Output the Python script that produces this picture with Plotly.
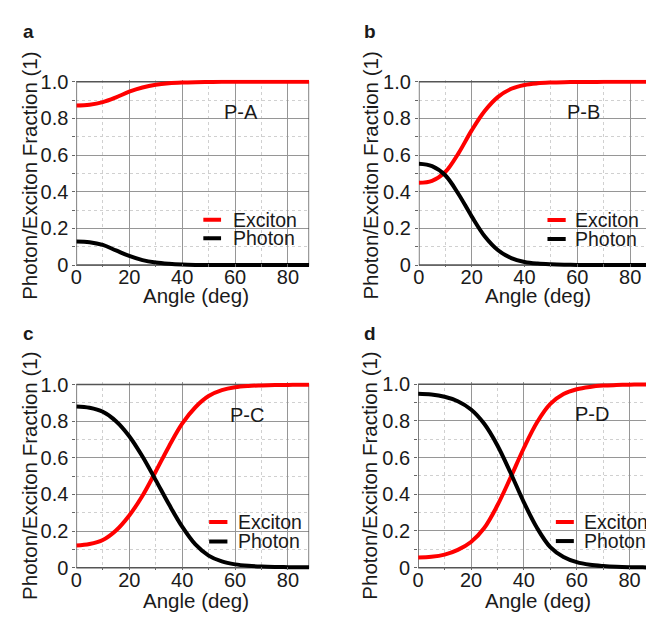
import plotly.graph_objects as go

angles = [0, 5, 10, 15, 20, 25, 30, 35, 40, 45, 50, 55, 60, 65, 70, 75, 80, 85, 88]

exciton_a = [0.871, 0.875, 0.889, 0.915, 0.946, 0.969, 0.984, 0.992, 0.996, 0.998, 0.999, 1.0, 1.0, 1.0, 1.0, 1.0, 1.0, 1.0, 1.0]
photon_a = [0.129, 0.125, 0.110, 0.080, 0.050, 0.027, 0.014, 0.007, 0.003, 0.001, 0.0, 0.0, 0.0, 0.0, 0.0, 0.0, 0.0, 0.0, 0.0]

exciton_b = [0.449, 0.460, 0.508, 0.610, 0.735, 0.842, 0.918, 0.962, 0.983, 0.992, 0.996, 0.998, 0.999, 0.999, 1.0, 1.0, 1.0, 1.0, 1.0]
photon_b = [0.553, 0.540, 0.490, 0.388, 0.266, 0.156, 0.081, 0.038, 0.017, 0.008, 0.004, 0.002, 0.001, 0.001, 0.0, 0.0, 0.0, 0.0, 0.0]

exciton_c = [0.121, 0.129, 0.151, 0.203, 0.285, 0.393, 0.525, 0.662, 0.786, 0.876, 0.937, 0.969, 0.985, 0.992, 0.995, 0.997, 0.998, 0.999, 0.999]
photon_c = [0.880, 0.873, 0.851, 0.800, 0.718, 0.607, 0.478, 0.346, 0.224, 0.127, 0.066, 0.034, 0.018, 0.010, 0.006, 0.004, 0.003, 0.002, 0.002]

exciton_d = [0.055, 0.059, 0.071, 0.097, 0.140, 0.216, 0.340, 0.492, 0.652, 0.792, 0.892, 0.946, 0.972, 0.985, 0.992, 0.995, 0.997, 0.998, 0.999]
photon_d = [0.947, 0.943, 0.931, 0.907, 0.862, 0.784, 0.666, 0.516, 0.356, 0.216, 0.112, 0.058, 0.030, 0.016, 0.009, 0.005, 0.003, 0.002, 0.001]

panel_letters = ["a", "b", "c", "d"]
panel_names = ["P-A", "P-B", "P-C", "P-D"]
series_names = ["Exciton", "Photon"]
x_ticks = [0, 20, 40, 60, 80]
y_ticks = [0, 0.2, 0.4, 0.6, 0.8, 1.0]
y_ticktext = ["0", "0.2", "0.4", "0.6", "0.8", "1.0"]
x_title = "Angle (deg)"
y_title = "Photon/Exciton Fraction (1)"

W, H = 646, 623
FONT = "Liberation Sans, Arial, sans-serif"
TXT = "#1a1a1a"
RED = "#ff0000"
BLACK = "#000000"
FRAME = "#555555"
EXT = 0.012  # small y-range padding so thick lines at 0 and 1 are not clipped

def px_x(p):
    return p / W

def px_y(p):
    return 1 - p / H

# panel geometry in pixels: (left, right, top(y=1), bottom(y=0), xmax)
panels = [
    (71, 306, 75, 263.7, 88.0),
    (416.7, 646, 75, 263.7, 86.0),
    (71, 306, 386.7, 575.3, 88.0),
    (416, 646, 386.3, 575.3, 86.2),
]
full_box = [True, False, True, False]

name_pos = [(62.1, 0.836), (62.5, 0.836), (64.4, 0.832), (65.6, 0.84)]
legend_pos = [  # line start, line end, text start, y exciton, y photon
    (48.0, 54.7, 58.5, 0.247, 0.147),
    (48.7, 55.6, 58.4, 0.246, 0.142),
    (50.2, 57.1, 60.3, 0.249, 0.143),
    (52.1, 58.9, 62.0, 0.249, 0.145),
]
letter_pos = [(23, 23), (367, 23), (23, 334), (367, 334)]
xtitle_pos = [(192, 295), (537, 295), (192, 609), (537, 609)]
ytitle_pos = [(23, 172), (367, 172), (23, 481), (367, 481)]

data = [(exciton_a, photon_a), (exciton_b, photon_b), (exciton_c, photon_c), (exciton_d, photon_d)]

fig = go.Figure()
layout = dict(
    width=W, height=H,
    margin=dict(l=0, r=0, t=0, b=0),
    paper_bgcolor="white", plot_bgcolor="white",
    showlegend=False,
    font=dict(family=FONT, size=20, color=TXT),
)
annotations = []
shapes = []

for i in range(4):
    sfx = "" if i == 0 else str(i + 1)
    xa, ya = "x" + sfx, "y" + sfx
    left, right, top, bottom, xmax = panels[i]
    span = bottom - top
    pad = EXT * span
    ex, ph = data[i]
    fig.add_trace(go.Scatter(x=angles, y=ex, mode="lines", name=series_names[0],
                             line=dict(color=RED, width=4, shape="spline", smoothing=1.0),
                             xaxis=xa, yaxis=ya))
    fig.add_trace(go.Scatter(x=angles, y=ph, mode="lines", name=series_names[1],
                             line=dict(color=BLACK, width=4, shape="spline", smoothing=1.0),
                             xaxis=xa, yaxis=ya))
    layout["xaxis" + sfx] = dict(
        domain=[px_x(left), min(1.0, px_x(right))], range=[0, xmax], anchor=ya,
        tickvals=x_ticks, ticks="inside", ticklen=3, tickcolor="#666",
        ticklabelstandoff=-4,
        showline=False, showgrid=True, gridcolor="#969696", gridwidth=1, zeroline=False,
        tickfont=dict(size=20, color=TXT, family=FONT),
        minor=dict(dtick=10, tick0=0, showgrid=True, gridcolor="#d0d0d0", griddash="dot",
                   ticks="inside", ticklen=3, tickcolor="#666"),
    )
    layout["yaxis" + sfx] = dict(
        domain=[px_y(bottom + pad), px_y(top - pad)], range=[-EXT, 1.0 + EXT], anchor=xa,
        tickvals=y_ticks, ticktext=y_ticktext, ticks="outside", ticklen=3, tickcolor="#666",
        showline=False, showgrid=True, gridcolor="#969696", gridwidth=1, zeroline=False,
        tickfont=dict(size=20, color=TXT, family=FONT),
        minor=dict(dtick=0.1, tick0=0, showgrid=True, gridcolor="#d0d0d0", griddash="dot",
                   ticks="outside", ticklen=3, tickcolor="#666"),
    )
    # frame of the panel (y from 0 to 1)
    x_right = xmax if full_box[i] else xmax + 10
    shapes.append(dict(type="rect", xref=xa, yref=ya, x0=0, x1=x_right, y0=0, y1=1,
                       line=dict(color=FRAME, width=1.5), layer="between"))
    # panel name
    annotations.append(dict(x=name_pos[i][0], y=name_pos[i][1], xref=xa, yref=ya,
                            text=panel_names[i], showarrow=False,
                            font=dict(size=20, color=TXT, family=FONT)))
    # legend
    lx0, lx1, tx, ye, yp = legend_pos[i]
    for yy, col, nm in [(ye, RED, series_names[0]), (yp, BLACK, series_names[1])]:
        shapes.append(dict(type="line", xref=xa, yref=ya, x0=lx0, x1=lx1, y0=yy, y1=yy,
                           line=dict(color=col, width=4)))
        annotations.append(dict(x=tx, y=yy, xref=xa, yref=ya, text=nm, showarrow=False,
                                xanchor="left", yanchor="middle",
                                font=dict(size=19.5, color=TXT, family=FONT)))
    # panel letter
    annotations.append(dict(x=px_x(letter_pos[i][0]), y=px_y(letter_pos[i][1]), xref="paper", yref="paper",
                            text="<b>%s</b>" % panel_letters[i], showarrow=False,
                            xanchor="center", yanchor="middle",
                            font=dict(size=19, color=TXT, family=FONT)))
    # axis titles
    annotations.append(dict(x=px_x(xtitle_pos[i][0]), y=px_y(xtitle_pos[i][1]), xref="paper", yref="paper",
                            text=x_title, showarrow=False, xanchor="center", yanchor="middle",
                            font=dict(size=20.5, color=TXT, family=FONT)))
    annotations.append(dict(x=px_x(ytitle_pos[i][0]), y=px_y(ytitle_pos[i][1]), xref="paper", yref="paper",
                            text=y_title, showarrow=False, textangle=-90,
                            xanchor="center", yanchor="middle",
                            font=dict(size=20.5, color=TXT, family=FONT)))

layout["annotations"] = annotations
layout["shapes"] = shapes
fig.update_layout(**layout)
fig.write_html("out.html")
